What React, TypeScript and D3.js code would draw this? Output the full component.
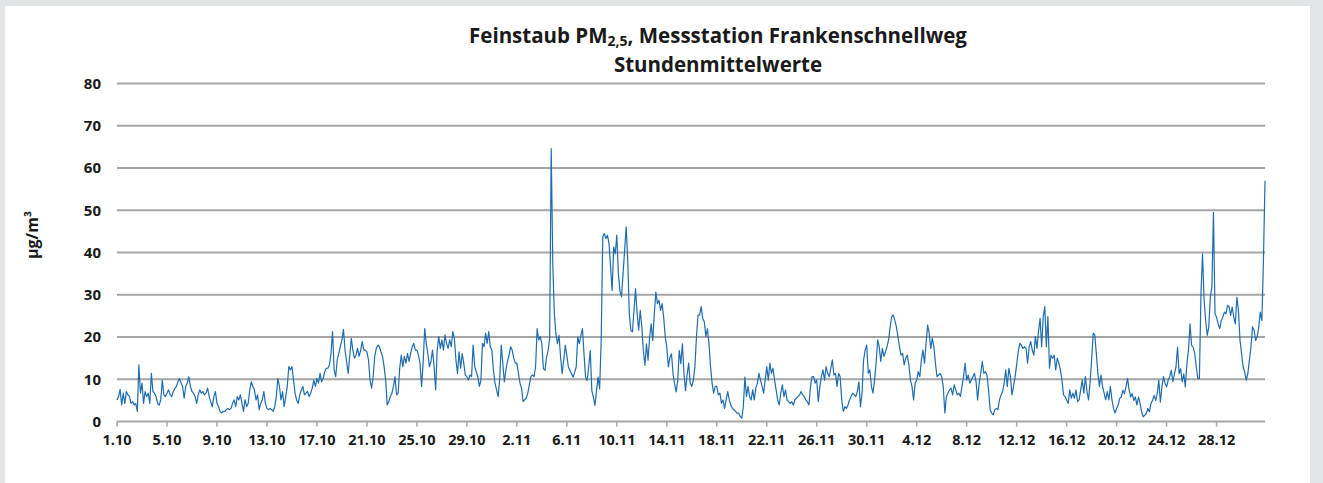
import React, { useEffect, useRef } from 'react';
import * as d3 from 'd3';

// PM2.5 hourly means at 3-hour steps (8 values per day)
const oct = [
  5.1, 5.9, 7.6, 3.9, 6.7, 4.3, 7.1, 6.3,
  5.9, 4.3, 4.7, 3.9, 4.3, 2.4, 13.4, 6.7,
  9.1, 4.3, 7.1, 5.9, 6.7, 4.3, 11.4, 7.1,
  6.7, 5.9, 4.3, 3.9, 5.1, 9.8, 6.3, 5.9,
  6.7, 7.5, 6.3, 5.9, 7.1, 7.8, 8.3, 9.4,
  10.2, 9.1, 8.3, 5.5, 8.3, 9.1, 10.6, 8.3,
  7.1, 6.7, 5.9, 4.3, 6.3, 7.5, 6.7, 7.1,
  6.3, 6.7, 7.9, 5.9, 4.7, 3.5, 5.9, 7.1,
  4.3, 3.5, 2.4, 2.0, 2.4, 2.4, 2.8, 3.1,
  2.8, 3.1, 4.3, 5.1, 3.5, 5.9, 5.1, 6.3,
  4.3, 2.4, 5.1, 3.5, 4.3, 7.5, 9.4, 8.3,
  7.5, 5.1, 6.3, 2.8, 4.3, 5.1, 7.1, 4.3,
  3.1, 2.8, 3.1, 2.8, 2.4, 3.5, 5.9, 10.2,
  8.3, 5.1, 7.1, 3.5, 5.9, 8.3, 13.0, 12.2,
  13.0, 9.8, 6.7, 5.1, 4.3, 6.3, 7.5, 8.3,
  6.3, 6.7, 7.1, 5.9, 6.7, 7.9, 9.8, 8.3,
  10.2, 9.1, 11.4, 9.4, 10.2, 11.8, 12.6, 12.6,
  13.4, 16.1, 21.3, 12.2, 10.6, 14.6, 16.1, 17.7,
  19.3, 21.8, 16.9, 14.2, 11.4, 15.4, 19.7, 16.9,
  15.0, 15.7, 17.3, 15.4, 16.9, 18.9, 16.9, 16.9,
  16.5, 14.6, 9.8, 7.9, 10.6, 15.4, 17.3, 18.1,
  17.7, 16.5, 15.4, 13.0, 9.8, 3.9, 4.7, 5.9,
  6.7, 8.3, 10.6, 6.3, 6.7, 12.6, 15.7, 13.0,
  15.4, 13.8, 16.1, 14.2, 16.1, 17.7, 18.5, 16.9,
  16.9, 15.7, 13.8, 8.3, 13.8, 22.0, 18.5, 16.1,
  13.0, 14.2, 16.9, 13.0, 7.5, 16.9, 20.1, 17.3,
  19.3, 16.9, 20.5, 18.5, 17.3, 19.3, 17.7, 21.3,
  19.7, 14.6, 11.4, 16.5, 12.6, 16.1, 13.8, 11.0,
  10.6, 9.8, 11.0, 10.6, 18.1, 13.0, 11.8, 10.6,
  8.3, 9.8, 18.5, 17.7, 20.9, 18.5, 21.3, 17.7,
  16.9, 12.2, 9.1, 7.5, 5.9, 9.8, 18.1, 13.8,
];

const nov = [
  9.4, 12.2, 14.2, 15.7, 17.7, 16.9, 15.0, 13.8,
  13.8, 11.4, 9.1, 7.9, 4.7, 5.1, 5.5, 6.7,
  8.7, 10.6, 11.0, 10.6, 13.0, 22.0, 19.3, 20.1,
  18.4, 12.5, 12.1, 15.2, 16.8, 19.6, 64.6, 37.4,
  25.5, 20.8, 18.4, 20.4, 15.2, 11.3, 14.5, 18.0,
  15.6, 12.9, 12.1, 11.3, 10.5, 11.7, 12.9, 20.0,
  18.4, 20.4, 22.0, 16.0, 10.5, 9.7, 12.9, 16.8,
  7.3, 5.8, 3.8, 7.3, 10.5, 7.7, 19.2, 43.7,
  44.5, 43.3, 44.1, 42.1, 36.6, 31.0, 41.3, 39.7,
  44.1, 35.0, 31.0, 29.5, 35.0, 40.5, 46.1, 38.2,
  25.5, 21.6, 21.2, 26.3, 31.4, 25.5, 21.6, 26.3,
  22.4, 16.8, 13.3, 18.4, 14.5, 20.0, 23.1, 19.2,
  25.5, 30.6, 27.9, 28.7, 26.3, 27.9, 24.7, 20.0,
  17.6, 12.9, 15.2, 16.0, 11.3, 8.9, 7.0, 9.7,
  16.8, 13.7, 18.4, 11.3, 7.3, 11.0, 13.8, 9.1,
  8.3, 9.8, 13.0, 20.1, 25.2, 25.2, 27.2, 24.4,
  23.6, 20.1, 22.0, 18.5, 13.0, 9.1, 6.7, 8.3,
  8.3, 6.3, 6.7, 4.3, 5.1, 3.1, 5.1, 7.1,
  5.1, 3.9, 3.1, 2.8, 2.4, 2.0, 2.0, 1.2,
  0.8, 3.5, 10.5, 5.9, 8.3, 5.9, 5.1, 7.5,
  5.1, 7.9, 9.1, 11.4, 9.8, 8.3, 6.7, 9.8,
  13.0, 9.8, 13.8, 11.4, 12.6, 9.8, 7.5, 5.1,
  3.9, 6.7, 8.7, 5.9, 7.5, 5.1, 4.7, 4.3,
  4.7, 3.9, 5.1, 5.5, 5.9, 6.3, 7.1, 6.3,
  5.9, 5.1, 4.7, 3.9, 8.3, 10.6, 10.6, 9.1,
  9.8, 4.7, 8.3, 10.6, 12.2, 9.8, 13.0, 11.4,
  10.6, 12.6, 14.6, 11.0, 11.4, 8.3, 11.4, 10.6,
  5.1, 2.4, 3.5, 3.1, 3.9, 5.1, 5.9, 6.7,
  6.3, 5.9, 7.1, 9.4, 3.5, 6.7, 14.6, 16.9,
  18.1, 11.4, 12.2, 8.3, 6.7, 9.8, 13.8, 19.3,
];

const dec = [
  17.7, 14.2, 17.3, 15.4, 16.5, 17.7, 19.3, 22.4,
  24.8, 25.2, 24.0, 22.4, 20.1, 17.7, 15.7, 16.1,
  13.4, 15.0, 15.7, 13.4, 9.8, 8.3, 5.1, 9.1,
  9.8, 11.8, 10.6, 14.6, 16.9, 13.8, 18.5, 22.8,
  20.9, 17.3, 19.7, 17.7, 13.8, 10.6, 11.0, 11.4,
  10.6, 8.3, 2.0, 5.9, 6.7, 7.5, 7.9, 6.3,
  8.7, 7.5, 6.3, 6.7, 5.9, 8.3, 10.6, 13.8,
  9.8, 11.0, 9.1, 9.8, 10.6, 11.4, 9.4, 5.1,
  9.1, 11.4, 14.2, 11.4, 11.8, 11.0, 7.5, 2.8,
  2.0, 1.6, 2.8, 3.1, 2.8, 5.1, 6.3, 7.1,
  9.1, 12.2, 8.3, 12.6, 10.6, 6.3, 8.3, 10.6,
  13.4, 16.5, 18.5, 18.1, 17.3, 17.7, 17.3, 13.8,
  17.7, 18.9, 16.9, 15.7, 20.1, 17.3, 21.3, 24.4,
  17.7, 24.8, 27.2, 17.7, 24.8, 12.6, 15.7, 15.0,
  15.7, 12.2, 15.0, 13.8, 12.2, 9.8, 6.3, 5.9,
  5.1, 4.3, 7.5, 5.5, 6.7, 5.5, 7.5, 4.7,
  5.1, 7.5, 9.8, 6.7, 10.6, 7.1, 5.1, 9.1,
  14.6, 20.9, 20.5, 16.1, 11.4, 8.3, 11.0, 8.3,
  6.7, 5.1, 7.1, 5.1, 8.3, 5.1, 3.1, 2.0,
  3.1, 3.9, 5.5, 5.8, 7.4, 6.6, 8.2, 10.2,
  7.4, 5.8, 6.6, 5.0, 5.8, 3.9, 5.8, 4.3,
  2.3, 1.1, 1.5, 1.9, 3.1, 2.3, 4.3, 5.0,
  6.2, 5.0, 6.6, 9.8, 4.6, 8.2, 10.6, 9.0,
  8.2, 9.8, 10.6, 12.1, 9.4, 11.3, 12.9, 17.6,
  11.3, 12.5, 9.4, 11.3, 8.2, 13.7, 16.9, 23.1,
  18.0, 17.6, 16.1, 12.9, 10.2, 10.2, 30.2, 39.7,
  28.7, 23.9, 20.4, 22.4, 29.4, 31.8, 49.5, 25.5,
  24.7, 23.1, 22.0, 23.9, 24.7, 25.9, 25.5, 27.5,
  27.1, 25.1, 27.1, 24.7, 23.1, 29.4, 26.3, 19.2,
  16.1, 12.9, 11.7, 9.8, 11.3, 14.5, 17.6, 22.4,
  21.6, 19.2, 20.0, 22.4, 25.9, 23.9, 38.1, 57.0,
];

const stepsPerDay = 8;
const labelEveryDays = 4;
const startDate = new Date(2016, 9, 1);
const yTicks = [0, 10, 20, 30, 40, 50, 60, 70, 80];

const App = () => {
  const svgRef = useRef<SVGSVGElement>(null);

  useEffect(() => {
    const width = 1323;
    const height = 483;
    const margin = { top: 83.5, right: 58, bottom: 61.5, left: 117 };
    const font = "'Open Sans', 'DejaVu Sans', sans-serif";

    const values = [...oct, ...nov, ...dec];

    const svg = d3.select(svgRef.current);
    svg.selectAll('*').remove();

    // grey frame around white panel
    svg.append('rect').attr('width', width).attr('height', height).attr('fill', '#e3e4e6');
    svg.append('rect')
      .attr('x', 5).attr('y', 6)
      .attr('width', 1305).attr('height', height - 6)
      .attr('fill', '#ffffff');

    const x = d3.scaleLinear()
      .domain([0, values.length - 1])
      .range([margin.left, width - margin.right]);

    const y = d3.scaleLinear()
      .domain([0, 80])
      .range([height - margin.bottom, margin.top]);

    // gridlines (incl. zero line)
    svg.append('g')
      .selectAll('line')
      .data(yTicks)
      .enter().append('line')
      .attr('x1', margin.left)
      .attr('x2', width - margin.right)
      .attr('y1', d => y(d))
      .attr('y2', d => y(d))
      .attr('stroke', '#a5a5a5')
      .attr('stroke-width', 2);

    // y labels
    svg.append('g')
      .selectAll('text')
      .data(yTicks)
      .enter().append('text')
      .attr('x', 101)
      .attr('y', d => y(d))
      .attr('dy', '0.36em')
      .attr('text-anchor', 'end')
      .attr('font-family', font)
      .attr('font-weight', 700)
      .attr('font-size', 15)
      .attr('fill', '#1a1a1a')
      .text(d => d);

    // x ticks + labels every 4 days
    const tickIdx = d3.range(0, values.length, stepsPerDay * labelEveryDays);
    const fmt = (i: number) => {
      const d = d3.timeDay.offset(startDate, i / stepsPerDay);
      return `${d.getDate()}.${d.getMonth() + 1}`;
    };

    const xg = svg.append('g');
    xg.selectAll('line')
      .data(tickIdx)
      .enter().append('line')
      .attr('x1', d => x(d)).attr('x2', d => x(d))
      .attr('y1', y(0)).attr('y2', y(0) + 5)
      .attr('stroke', '#a5a5a5')
      .attr('stroke-width', 1.5);
    xg.selectAll('text')
      .data(tickIdx)
      .enter().append('text')
      .attr('x', d => x(d))
      .attr('y', 445)
      .attr('text-anchor', 'middle')
      .attr('font-family', font)
      .attr('font-weight', 700)
      .attr('font-size', 14.5)
      .attr('fill', '#1a1a1a')
      .text(d => fmt(d));

    // series
    const line = d3.line<number>()
      .x((_, i) => x(i))
      .y(d => y(d));

    svg.append('path')
      .datum(values)
      .attr('d', line)
      .attr('fill', 'none')
      .attr('stroke', '#1f6cb0')
      .attr('stroke-width', 1.2)
      .attr('stroke-linejoin', 'round');

    // y axis title
    svg.append('text')
      .attr('transform', 'translate(38, 235) rotate(-90)')
      .attr('text-anchor', 'middle')
      .attr('font-family', font)
      .attr('font-weight', 700)
      .attr('font-size', 16)
      .attr('fill', '#1a1a1a')
      .text('µg/m³');

    // title
    const title = svg.append('text')
      .attr('x', 718)
      .attr('y', 42.5)
      .attr('text-anchor', 'middle')
      .attr('font-family', font)
      .attr('font-weight', 700)
      .attr('font-size', 20.5)
      .attr('fill', '#1a1a1a');
    title.append('tspan').text('Feinstaub PM');
    title.append('tspan').attr('font-size', 14).attr('dy', 3).text('2,5');
    title.append('tspan').attr('dy', -3).text(', Messstation Frankenschnellweg');

    svg.append('text')
      .attr('x', 718)
      .attr('y', 72)
      .attr('text-anchor', 'middle')
      .attr('font-family', font)
      .attr('font-weight', 700)
      .attr('font-size', 20.5)
      .attr('fill', '#1a1a1a')
      .text('Stundenmittelwerte');
  }, []);

  return (
    <svg
      ref={svgRef}
      width={1323}
      height={483}
      style={{ position: 'absolute', left: 0, top: 0 }}
    ></svg>
  );
};

export default App;
